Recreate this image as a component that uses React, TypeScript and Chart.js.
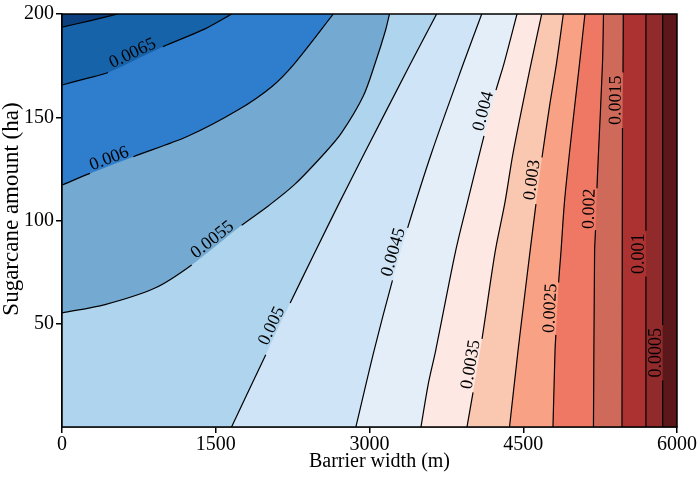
import React, { useEffect, useRef } from 'react';
import { Chart, registerables } from 'chart.js';

Chart.register(...registerables);

const FONT = '"Liberation Serif", "Times New Roman", serif';
const NB = '\u00A0';

const xTicks = [0, 1500, 3000, 4500, 6000];
const yTicks = [50, 100, 150, 200];
const xTitle = 'Barrier width (m)';
const yTitle = 'Sugarcane amount (ha)';

const levelLabels = ['0.0005', '0.001', '0.0015', '0.002', '0.0025', '0.003', '0.0035', '0.004', '0.0045', '0.005', '0.0055', '0.006', '0.0065', '0.007'];

// band colours, lowest band (< 0.0005) first, highest band (> 0.007) last
const bandColors = [
  '#5b1719', '#912a2b', '#ac3232', '#cf6a5b', '#ef7864', '#f9a184', '#fac7b0', '#fde8e4',
  '#e3eef9', '#cfe4f7', '#aed4ee', '#74aad2', '#2f7dcd', '#1763aa', '#0b3f7e',
];

// contour lines (x = barrier width, y = sugarcane amount)
const c0005x = [5860, 5860, 5860, 5860];
const c0005y = [0, 22.5, 49.4, 200];
const c001x = [5697, 5697, 5697, 5697];
const c001y = [0, 72.9, 95.0, 200];
const c0015x = [5463, 5468, 5473, 5476];
const c0015y = [0, 144.8, 171.7, 200];
const c002x = [5185, 5196, 5205, 5219, 5234, 5273, 5283];
const c002y = [0, 84.9, 95.4, 115.6, 132.8, 176.0, 200];
const c0025x = [4790, 4810, 4818, 4845, 4868, 4902, 4951, 5005, 5049, 5102];
const c0025y = [0, 36.9, 44.6, 70.0, 84.9, 108.9, 132.8, 156.8, 176.0, 200];
const c003x = [4366, 4449, 4507, 4566, 4624, 4683, 4761, 4824, 4891];
const c003y = [0, 36.9, 60.9, 84.9, 107.9, 130.5, 156.8, 176.0, 200];
const c0035x = [3951, 4010, 4098, 4226, 4322, 4401, 4576, 4680];
const c0035y = [0, 16.8, 42.7, 84.9, 108.9, 132.8, 176.0, 200];
const c004x = [3502, 3574, 3645, 3839, 3956, 4117, 4234, 4312, 4439];
const c004y = [0, 21.0, 36.9, 84.9, 108.9, 141.0, 163.1, 176.0, 200];
const c0045x = [2867, 3044, 3224, 3372, 3606, 3916, 4095];
const c0045y = [0, 36.9, 71.0, 96.4, 132.8, 176.0, 200];
const c005x = [1654, 1988, 2226, 2470, 2709, 2953, 3401, 3655];
const c005y = [0, 35.0, 60.0, 84.9, 108.9, 132.8, 176.0, 200];
const c0055x = [0, 420, 907, 1265, 1753, 2019, 2273, 2566, 2727, 2937, 3054, 3156, 3195];
const c0055y = [55.3, 59.3, 67.3, 78.5, 97.7, 107.3, 117.6, 132.8, 142.4, 160.0, 176.0, 192.0, 200];
const c006x = [0, 273, 696, 1232, 1720, 2046, 2268, 2647];
const c006y = [117.2, 122.8, 130.9, 140.9, 153.6, 164.8, 176.0, 200];
const c0065x = [0, 224, 449, 985, 1395, 1656];
const c0065y = [165.6, 168.6, 171.7, 184.2, 192.8, 200];
const c007x = [0, 270, 546];
const c007y = [193.6, 196.7, 200];

// index of the segment where the inline label sits (-1 = no label)
const labelGaps = [1, 1, 1, 2, 2, 4, 1, 5, 2, 1, 3, 1, 2, -1];

const contourXs = [c0005x, c001x, c0015x, c002x, c0025x, c003x, c0035x, c004x, c0045x, c005x, c0055x, c006x, c0065x, c007x];
const contourYs = [c0005y, c001y, c0015y, c002y, c0025y, c003y, c0035y, c004y, c0045y, c005y, c0055y, c006y, c0065y, c007y];

const X_MIN = 0, X_MAX = 6000, Y_MIN = 0, Y_MAX = 200;
const TENSION = 0.3;

function pts(i: number) {
  return contourXs[i].map((x, k) => ({ x, y: contourYs[i][k] }));
}

const overlay = {
  id: 'overlay',
  afterDatasetsDraw(chart: any) {
    const { ctx, chartArea: a, scales } = chart;
    const xs = scales.x, ys = scales.y;
    ctx.save();
    ctx.font = `18px ${FONT}`;
    ctx.fillStyle = '#000';
    ctx.textAlign = 'center';
    ctx.textBaseline = 'alphabetic';
    for (let i = 0; i < contourXs.length; i++) {
      const g = labelGaps[i];
      if (g < 0) continue;
      const x0 = xs.getPixelForValue(contourXs[i][g]);
      const y0 = ys.getPixelForValue(contourYs[i][g]);
      const x1 = xs.getPixelForValue(contourXs[i][g + 1]);
      const y1 = ys.getPixelForValue(contourYs[i][g + 1]);
      const ang = Math.atan2(y1 - y0, x1 - x0);
      ctx.save();
      ctx.translate((x0 + x1) / 2, (y0 + y1) / 2);
      ctx.rotate(ang);
      ctx.fillText(levelLabels[i], 0, -2);
      ctx.restore();
    }
    ctx.lineWidth = 1.5;
    ctx.strokeStyle = '#000';
    ctx.strokeRect(a.left, a.top, a.right - a.left, a.bottom - a.top);
    ctx.restore();
  },
};

export default function App() {
  const ref = useRef<HTMLCanvasElement>(null);
  useEffect(() => {
    const datasets: any[] = [];
    let order = 1000;
    const TR = { x: X_MAX, y: Y_MAX }, BR = { x: X_MAX, y: Y_MIN }, BL = { x: X_MIN, y: Y_MIN }, TL = { x: X_MIN, y: Y_MAX };
    // full-area base (highest band)
    datasets.push({
      data: [BL, TL, TR, BR],
      fill: 'shape', backgroundColor: bandColors[bandColors.length - 1], tension: 0,
      borderColor: 'rgba(0,0,0,0)', borderWidth: 0, pointRadius: 0, order: order--,
    });
    for (let i = contourXs.length - 1; i >= 0; i--) {
      const p = pts(i);
      const last = p[p.length - 1];
      // corner points are doubled so the smoothed path stays straight along the frame
      datasets.push({
        data: [...p, { ...last }, TR, { ...TR }, BR, { ...BR }, BL, { ...BL }],
        fill: 'shape', backgroundColor: bandColors[i], tension: TENSION,
        borderColor: 'rgba(0,0,0,0)', borderWidth: 0, pointRadius: 0, order: order--,
      });
    }
    for (let i = 0; i < contourXs.length; i++) {
      const g = labelGaps[i];
      datasets.push({
        data: pts(i), fill: false, borderColor: '#000', borderWidth: 1.2, pointRadius: 0, order: 0, tension: TENSION,
        segment: { borderColor: (c: any) => (c.p0DataIndex === g ? 'rgba(0,0,0,0)' : '#000') },
      });
    }
    const tickFont = { family: FONT, size: 20 };
    const chart = new Chart(ref.current!, {
      type: 'line',
      data: { datasets },
      options: {
        responsive: false,
        animation: false,
        events: [],
        layout: { padding: { left: 0, right: 23, top: 10, bottom: 0 } },
        plugins: { legend: { display: false }, tooltip: { enabled: false } },
        scales: {
          x: {
            type: 'linear', min: X_MIN, max: X_MAX,
            afterBuildTicks: (s: any) => { s.ticks = xTicks.map((v) => ({ value: v })); },
            afterFit: (s: any) => { s.height = 50; },
            ticks: { font: tickFont, color: '#000', padding: 0, maxRotation: 0, autoSkip: false, callback: (v: any) => String(v) },
            grid: { drawOnChartArea: false, drawTicks: true, tickLength: 6, color: '#000', lineWidth: 1.5 },
            border: { display: true, color: '#000', width: 1.5 },
            title: { display: true, text: NB.repeat(4) + xTitle, font: { family: FONT, size: 20, lineHeight: 1 }, color: '#000', padding: { top: 0, bottom: 5 } },
          },
          y: {
            type: 'linear', min: Y_MIN, max: Y_MAX,
            afterBuildTicks: (s: any) => { s.ticks = yTicks.map((v) => ({ value: v })); },
            afterFit: (s: any) => { s.width = 62; },
            ticks: { font: tickFont, color: '#000', padding: 2, autoSkip: false, callback: (v: any) => String(v) },
            grid: { drawOnChartArea: false, drawTicks: true, tickLength: 6, color: '#000', lineWidth: 1.5 },
            border: { display: true, color: '#000', width: 1.5 },
            title: { display: true, text: NB.repeat(4) + yTitle, font: { family: FONT, size: 23, lineHeight: 1 }, color: '#000', padding: { top: 0, bottom: 0 } },
          },
        },
      },
      plugins: [overlay],
    } as any);
    return () => chart.destroy();
  }, []);
  return (
    <div style={{ position: 'fixed', left: 0, top: 0, width: 700, height: 477, background: '#fff' }}>
      <canvas ref={ref} width={700} height={477} style={{ width: 700, height: 477, display: 'block' }} />
    </div>
  );
}
